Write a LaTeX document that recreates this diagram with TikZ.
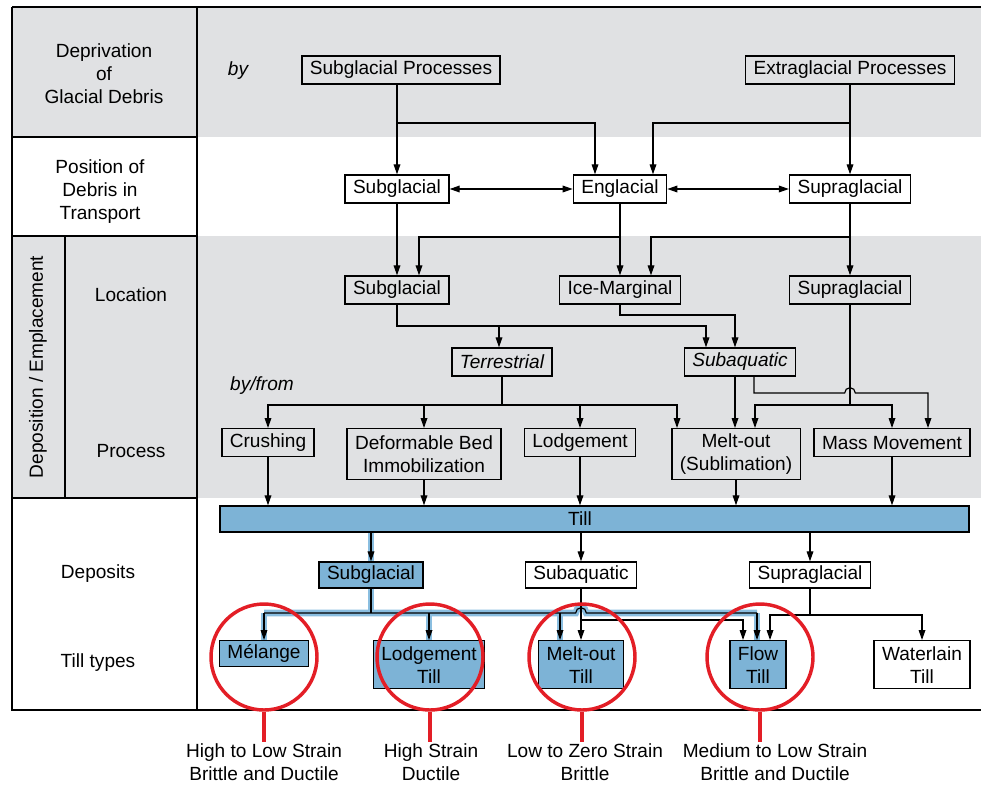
\documentclass[tikz,border=0pt]{standalone}
\usepackage{fontspec}
\setmainfont{Liberation Sans}
\usetikzlibrary{arrows.meta}
\usetikzlibrary{positioning}

\definecolor{bandgrey}{RGB}{224,225,227}
\definecolor{tillblue}{RGB}{125,179,214}
\definecolor{glowblue}{RGB}{138,190,224}
\definecolor{ringred}{RGB}{227,30,38}

\tikzset{
  >={Triangle[length=7.5pt,width=5pt]},
  frame/.style={line width=1.1pt},
  box/.style={draw, rectangle, line width=1pt, inner xsep=6pt, inner ysep=2pt, minimum height=21pt},
  twobox/.style={box, align=center, minimum height=38pt},
  bluebox/.style={box, fill=tillblue},
  flow/.style={->, line width=0.9pt},
  twoway/.style={<->, line width=0.9pt},
  glow/.style={draw=glowblue, line width=5pt},
  ring/.style={draw=ringred, line width=2.6pt},
}

\begin{document}
\begin{tikzpicture}[x=0.75pt, y=-0.75pt, line width=0.9pt, font=\fontsize{14.3}{17.25}\selectfont]
        \useasboundingbox (0,0) rectangle (981,786);

        % bands and table
        \fill[bandgrey] (12,7) rectangle (981,137);
        \fill[bandgrey] (12,236) rectangle (981,498);
        \draw[frame] (12,7) -- (981,7);
        \draw[frame] (12,7) -- (12,710) -- (981,710);
        \draw[frame] (197,7) -- (197,710);
        \draw[frame] (12,137) -- (197,137);
        \draw[frame] (12,236) -- (197,236);
        \draw[frame] (12,498) -- (197,498);
        \draw[frame] (65,236) -- (65,498);

        \node[align=center] (hDep) at (104,74) {Deprivation\\of\\Glacial Debris};
        \node[align=center] (hPos) at (100,192) {Position of\\Debris in\\Transport};
        \node[rotate=90] (hDE) at (38,367) {Deposition / Emplacement};
        \node (hLoc) at (131,295) {Location};
        \node (hPro) at (131,451) {Process};
        \node (hDpt) at (98,574) {Deposits};
        \node (hTt) at (98,663) {Till types};

        % boxes
        \node (by) at (238,71) {\itshape by};
        \node[box] (sgp) at (401,70) {Subglacial Processes};
        \node[box] (egp) at (850,70) {Extraglacial Processes};

        \node[box] (psub) at (397,189) {Subglacial};
        \node[box] (peng) at (620,189) {Englacial};
        \node[box] (psup) at (850,189) {Supraglacial};

        \node[box] (lsub) at (397,290) {Subglacial};
        \node[box] (lice) at (620,290) {Ice-Marginal};
        \node[box] (lsup) at (850,290) {Supraglacial};

        \node[box] (terr) at (502,362) {\itshape Terrestrial};
        \node[box] (suba) at (740,362) {\itshape Subaquatic};
        \node (byfrom) at (262,386) {\itshape by/from};

        \node[box, anchor=north] (crush) at (268,428) {Crushing};
        \node[twobox, anchor=north] (defo) at (424,428) {Deformable Bed\\Immobilization};
        \node[box, anchor=north] (lodg) at (580,428) {Lodgement};
        \node[twobox, anchor=north] (melt) at (736,428) {Melt-out\\(Sublimation)};
        \node[box, anchor=north] (mass) at (892,428) {Mass Movement};

        \node[bluebox, minimum width=561.75pt, minimum height=19.5pt, inner sep=0pt,
              label={[xshift=-10.9pt]center:Till}] (till) at (594.5,519) {};

        \node[bluebox, minimum height=19.5pt] (dsub) at (371,575) {Subglacial};
        \node[box, minimum height=19.5pt] (dsuba) at (581,575) {Subaquatic};
        \node[box, minimum height=19.5pt] (dsup) at (810,575) {Supraglacial};

        \node[bluebox, minimum height=19.5pt, anchor=north] (tmel) at (264,640) {Mélange};
        \node[bluebox, twobox, minimum height=36pt, anchor=north] (tlod) at (429,640) {Lodgement\\Till};
        \node[bluebox, twobox, minimum height=36pt, anchor=north] (tmelt) at (581,640) {Melt-out\\Till};
        \node[bluebox, twobox, minimum height=36pt, anchor=north] (tflow) at (758,640) {Flow\\Till};
        \node[twobox, minimum height=36pt, anchor=north] (twat) at (922,640) {Waterlain\\Till};

        % deprivation -> position
        \coordinate (aE) at (595,123);
        \coordinate (bE) at (653,123);
        \draw[flow] (sgp.south -| psub) -- (psub);
        \draw[flow] (sgp.south -| psub) |- (aE) -- (aE |- peng.north);
        \draw[flow] (egp.south -| psup) -- (psup);
        \draw[flow] (egp.south -| psup) |- (bE) -- (bE |- peng.north);
        \draw[twoway] (psub) -- (peng);
        \draw[twoway] (peng) -- (psup);

        % position -> location
        \coordinate (aS) at (419,237);
        \coordinate (aI) at (651,237);
        \draw[flow] (psub) -- (lsub);
        \draw[flow] (peng) -- (lice);
        \draw[flow] (peng.south) |- (aS) -- (aS |- lsub.north);
        \draw[flow] (psup) -- (lsup);
        \draw[flow] (psup.south) |- (aI) -- (aI |- lice.north);

        % location -> terrestrial / subaquatic
        \coordinate (aT) at (499,326);
        \coordinate (aA) at (706,326);
        \coordinate (bA) at (735,315);
        \draw[flow] (lsub.south) |- (aT) -- (aT |- terr.north);
        \draw[flow] (aT) -- (aA) -- (aA |- suba.north);
        \draw[flow] (lice.south) |- (bA) -- (bA |- suba.north);

        % -> processes
        \coordinate (pbar) at (0,405);
        \coordinate (mL) at (677,405);
        \coordinate (mR) at (755,405);
        \coordinate (hA) at (754,393);
        \coordinate (hB) at (928,393);
        \coordinate (hX) at (hA -| lsup.south);
        \draw (terr.south) -- (terr.south |- pbar);
        \draw[flow] (terr.south |- pbar) -| (crush.north);
        \draw[flow] (terr.south |- pbar) -| (defo.north);
        \draw[flow] (terr.south |- pbar) -| (lodg.north);
        \draw[flow] (terr.south |- pbar) -- (mL) -- (mL |- melt.north);
        \draw[flow] (bA |- suba.south) -- (bA |- melt.north);
        \draw[flow] (hA |- suba.south) -- (hA) -- ([xshift=-4pt]hX) arc[start angle=180, end angle=0, radius=4pt] -- (hB) -- (hB |- mass.north);
        \draw (lsup.south) -- (lsup.south |- pbar);
        \draw[flow] (lsup.south |- pbar) -- (mR) -- (mR |- melt.north);
        \draw[flow] (lsup.south |- pbar) -| (mass.north);

        % -> till
        \foreach \p in {crush,defo,lodg,melt,mass}
          \draw[flow] (\p.south) -- (\p.south |- till.north);

        % till -> deposits
        \coordinate (gY) at (0,613);
        \coordinate (gM) at (560,613);
        \coordinate (gF) at (757,613);
        \coordinate (hY) at (dsuba |- gY);
        \coordinate (qF) at (743,620);
        \coordinate (rF) at (770,615);
        \draw[glow] (dsub |- till.south) -- (dsub.north);
        \draw[glow] (dsub.south) -- (dsub.south |- gY);
        \draw[glow] (tmel.north |- gY) -- ([xshift=-4pt]hY) arc[start angle=180, end angle=0, radius=4pt] -- (gF);
        \draw[glow] (tmel.north |- gY) -- (tmel.north);
        \draw[glow] (tlod.north |- gY) -- (tlod.north);
        \draw[glow] (gM) -- (gM |- tmelt.north);
        \draw[glow] (gF) -- (gF |- tflow.north);

        \draw[flow] (dsub |- till.south) -- (dsub);
        \draw[flow] (dsuba |- till.south) -- (dsuba);
        \draw[flow] (dsup |- till.south) -- (dsup);

        % deposits -> till types
        \draw (dsub.south) -- (dsub.south |- gY);
        \draw (tmel.north |- gY) -- ([xshift=-4pt]hY) arc[start angle=180, end angle=0, radius=4pt] -- (gF);
        \draw[flow] (tmel.north |- gY) -- (tmel.north);
        \draw[flow] (tlod.north |- gY) -- (tlod.north);
        \draw[flow] (gM) -- (gM |- tmelt.north);
        \draw[flow] (gF) -- (gF |- tflow.north);
        \draw[flow] (dsuba.south) -- (tmelt.north);
        \draw[flow] (dsuba.south |- qF) -- (qF) -- (qF |- tflow.north);
        \draw[flow] (dsup.south) |- (rF) -- (rF |- tflow.north);
        \draw[flow] (dsup.south |- rF) -| (twat.north);

        % strain rings
        \node[ring, circle, minimum size=79.5pt, inner sep=0pt] (c1) at (264,657) {};
        \node[ring, circle, minimum size=79.5pt, inner sep=0pt] (c2) at (430,657) {};
        \node[ring, circle, minimum size=79.5pt, inner sep=0pt] (c3) at (582,657) {};
        \node[ring, circle, minimum size=79.5pt, inner sep=0pt] (c4) at (760,657) {};
        \node[align=center, inner sep=1pt] (s1) at (264,762) {High to Low Strain\\Brittle and Ductile};
        \node[align=center, inner sep=1pt] (s2) at (431,762) {High Strain\\Ductile};
        \node[align=center, inner sep=1pt] (s3) at (585,762) {Low to Zero Strain\\Brittle};
        \node[align=center, inner sep=1pt] (s4) at (775,762) {Medium to Low Strain\\Brittle and Ductile};
        \draw[ring] (c1.south) -- (c1.south |- s1.north);
        \draw[ring] (c2.south) -- (c2.south |- s2.north);
        \draw[ring] (c3.south) -- (c3.south |- s3.north);
        \draw[ring] (c4.south) -- (c4.south |- s4.north);

      \end{tikzpicture}
\end{document}
